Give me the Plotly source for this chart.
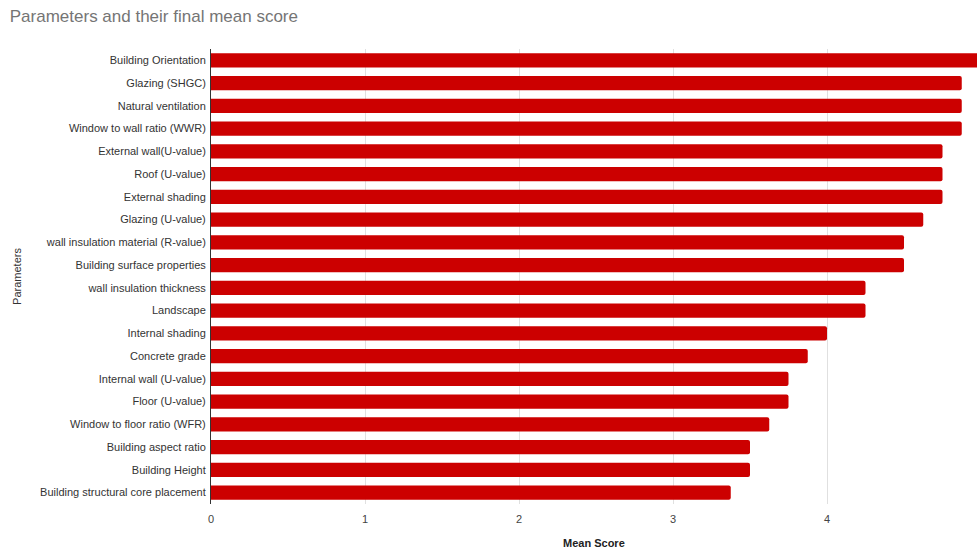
import plotly.graph_objects as go

parameters = [
    "Building Orientation",
    "Glazing (SHGC)",
    "Natural ventilation",
    "Window to wall ratio (WWR)",
    "External wall(U-value)",
    "Roof (U-value)",
    "External shading",
    "Glazing (U-value)",
    "wall insulation material (R-value)",
    "Building surface properties",
    "wall insulation thickness",
    "Landscape",
    "Internal shading",
    "Concrete grade",
    "Internal wall (U-value)",
    "Floor (U-value)",
    "Window to floor ratio (WFR)",
    "Building aspect ratio",
    "Building Height",
    "Building structural core placement",
]
mean_scores = [5.0, 4.875, 4.875, 4.875, 4.75, 4.75, 4.75, 4.625, 4.5, 4.5,
               4.25, 4.25, 4.0, 3.875, 3.75, 3.75, 3.625, 3.5, 3.5, 3.375]
x_ticks = [0, 1, 2, 3, 4]

FONT = "Liberation Sans, Arial, sans-serif"

fig = go.Figure(
    go.Bar(
        x=mean_scores,
        y=parameters,
        orientation="h",
        marker=dict(color="#cc0000", line=dict(width=0), cornerradius=2),
        hoverinfo="x+y",
    )
)

fig.update_layout(
    width=977,
    height=551,
    margin=dict(l=211, r=0, t=49, b=47),
    paper_bgcolor="white",
    plot_bgcolor="white",
    bargap=0.38,
    showlegend=False,
    font=dict(family=FONT, size=11, color="#333333"),
    title=dict(
        text="Parameters and their final mean score",
        x=0.01, xanchor="left", y=0.970, yanchor="middle",
        font=dict(family=FONT, size=17, color="#757575"),
    ),
    xaxis=dict(
        range=[0, 4.974],
        tickvals=x_ticks,
        ticktext=[str(t) for t in x_ticks],
        showgrid=True,
        gridcolor="#e0e0e0",
        gridwidth=1,
        zeroline=False,
        showline=False,
        ticks="",
        ticklabelstandoff=7,
        tickfont=dict(family=FONT, size=11, color="#444444"),
        fixedrange=True,
    ),
    yaxis=dict(
        autorange="reversed",
        showgrid=False,
        showline=True,
        linecolor="#333333",
        linewidth=1,
        ticks="",
        ticklabelstandoff=2,
        tickfont=dict(family=FONT, size=11, color="#333333"),
        fixedrange=True,
    ),
    annotations=[
        dict(
            text="<b>Mean Score</b>", xref="paper", yref="paper",
            x=0.5, y=-0.086, xanchor="center", yanchor="middle",
            showarrow=False, font=dict(family=FONT, size=11, color="#222222"),
        ),
        dict(
            text="Parameters", xref="paper", yref="paper",
            x=-0.254, y=0.5, xanchor="center", yanchor="middle", textangle=-90,
            showarrow=False, font=dict(family=FONT, size=11, color="#333333"),
        ),
    ],
)

fig.write_html("out.html")
